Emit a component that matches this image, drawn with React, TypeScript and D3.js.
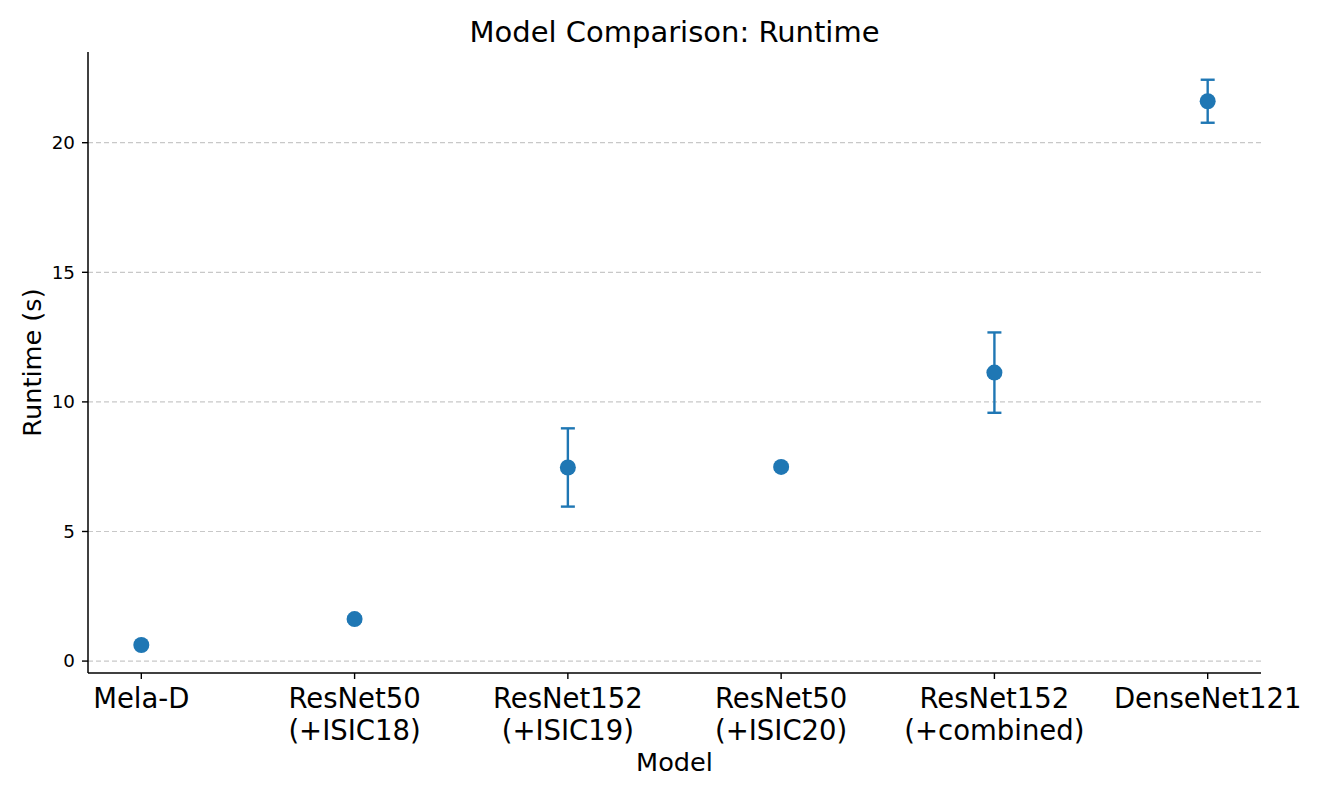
import React from "react";
import * as d3 from "d3";

const models = ["Mela-D", "ResNet50\n(+ISIC18)", "ResNet152\n(+ISIC19)", "ResNet50\n(+ISIC20)", "ResNet152\n(+combined)", "DenseNet121"];
const runtimeMean = [0.62, 1.62, 7.47, 7.49, 11.13, 21.6];
const runtimeErr = [0.05, 0.1, 1.51, 0.1, 1.55, 0.83];
const yTicks = [0, 5, 10, 15, 20];

const W = 1329, H = 797;
const M = { left: 88, right: 1261, top: 52, bottom: 673 };
const color = "#1f77b4";
const font = "DejaVu Sans, sans-serif";

export default function App() {
  const x = d3.scaleLinear().domain([-0.25, models.length - 0.75]).range([M.left, M.right]);
  const y = d3.scaleLinear().domain([-0.46, 23.5]).range([M.bottom, M.top]);
  const cap = 7;
  return (
    <svg width={W} height={H} style={{ position: "absolute", left: 0, top: 0 }} fontFamily={font}>
      <rect width={W} height={H} fill="white" />
      <text x={(M.left + M.right) / 2} y={42} textAnchor="middle" fontSize={29}>Model Comparison: Runtime</text>
      {yTicks.map((t) => (
        <g key={t}>
          <line x1={M.left} x2={M.right} y1={y(t)} y2={y(t)} stroke="#b0b0b0" strokeOpacity={0.7} strokeDasharray="5,3" strokeWidth={1.2} />
          <line x1={M.left - 6} x2={M.left} y1={y(t)} y2={y(t)} stroke="black" strokeWidth={1.4} />
          <text x={M.left - 13} y={y(t)} dy="0.35em" textAnchor="end" fontSize={18.3}>{t}</text>
        </g>
      ))}
      {models.map((m, i) => (
        <g key={i}>
          <line x1={x(i)} x2={x(i)} y1={M.bottom} y2={M.bottom + 6} stroke="black" strokeWidth={1.4} />
          {m.split("\n").map((s, j) => (
            <text key={j} x={x(i)} y={M.bottom + 35 + j * 32} textAnchor="middle" fontSize={27.5}>{s}</text>
          ))}
        </g>
      ))}
      <line x1={M.left} x2={M.left} y1={M.top} y2={M.bottom} stroke="black" strokeWidth={1.5} />
      <line x1={M.left} x2={M.right} y1={M.bottom} y2={M.bottom} stroke="black" strokeWidth={1.5} />
      {runtimeMean.map((v, i) => {
        const e = runtimeErr[i];
        return (
          <g key={i}>
            <line x1={x(i)} x2={x(i)} y1={y(v - e)} y2={y(v + e)} stroke={color} strokeWidth={2.4} />
            <line x1={x(i) - cap} x2={x(i) + cap} y1={y(v - e)} y2={y(v - e)} stroke={color} strokeWidth={2.4} />
            <line x1={x(i) - cap} x2={x(i) + cap} y1={y(v + e)} y2={y(v + e)} stroke={color} strokeWidth={2.4} />
            <circle cx={x(i)} cy={y(v)} r={8} fill={color} />
          </g>
        );
      })}
      <text transform={`translate(41,${(M.top + M.bottom) / 2}) rotate(-90)`} textAnchor="middle" fontSize={25.6}>Runtime (s)</text>
      <text x={(M.left + M.right) / 2} y={771} textAnchor="middle" fontSize={25.6}>Model</text>
    </svg>
  );
}
